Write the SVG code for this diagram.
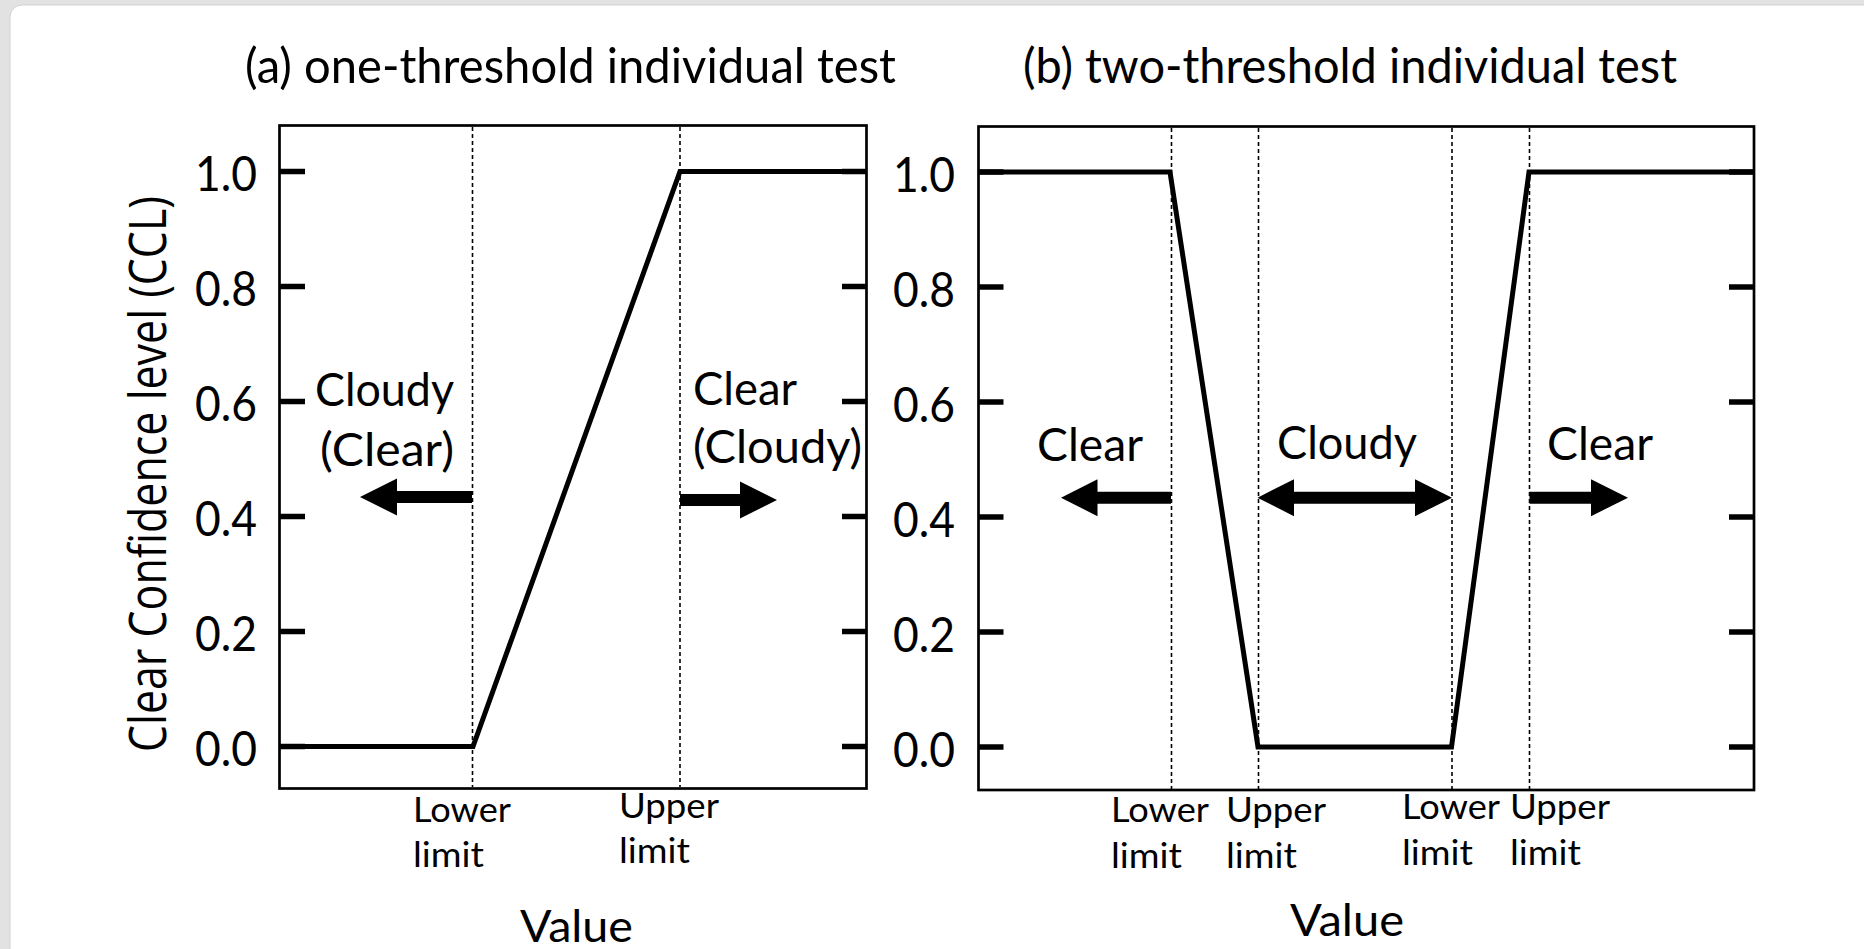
<svg xmlns="http://www.w3.org/2000/svg" width="1864" height="949" viewBox="0 0 1864 949">
  <style>
    .frame { fill: none; stroke: #000; stroke-width: 2.7; }
    .tick { stroke: #000; stroke-width: 5.5; }
    .limit { stroke: #000; stroke-width: 1.6; stroke-dasharray: 4 3; }
    .curve { fill: none; stroke: #000; stroke-width: 5; stroke-linejoin: miter; }
    .arrow { fill: #000; stroke: none; }
    .title { font-family: Lato, "Open Sans", sans-serif; font-size: 49px; fill: #000; }
    .num { font-family: Lato, "Open Sans", sans-serif; font-size: 48px; fill: #000; }
    .zone { font-family: Lato, "Open Sans", sans-serif; font-size: 46px; fill: #000; }
    .lim { font-family: Lato, "Open Sans", sans-serif; font-size: 34px; fill: #000; }
    .xlab { font-family: Lato, "Open Sans", sans-serif; font-size: 44px; fill: #000; }
    .ylab { font-family: "Open Sans", "Noto Sans", sans-serif; font-size: 51px; fill: #000; }
  </style>

  <!-- page background and card -->
  <rect x="0" y="0" width="1864" height="949" fill="#e2e2e2"/>
  <rect x="10" y="5" width="1880" height="960" rx="12" ry="12" fill="#ffffff" stroke="#d2d2d2" stroke-width="1"/>

  <!-- y axis title shared by both panels -->
  <text id="y-axis-title" class="ylab" transform="translate(166,752) rotate(-90)" x="0" y="0" textLength="556" lengthAdjust="spacingAndGlyphs">Clear Confidence level (CCL)</text>

  <!-- (a) one-threshold test -->
  <g id="panel-a">
    <text class="title" x="245" y="83" textLength="651" lengthAdjust="spacingAndGlyphs">(a) one-threshold individual test</text>
    <rect class="frame" x="279.5" y="125.5" width="587" height="663"/>
    <g id="panel-a-ticks">
      <line class="tick" x1="279.5" y1="171.5" x2="305" y2="171.5"/>
      <line class="tick" x1="279.5" y1="286.5" x2="305" y2="286.5"/>
      <line class="tick" x1="279.5" y1="401.5" x2="305" y2="401.5"/>
      <line class="tick" x1="279.5" y1="516.5" x2="305" y2="516.5"/>
      <line class="tick" x1="279.5" y1="631.5" x2="305" y2="631.5"/>
      <line class="tick" x1="279.5" y1="746.5" x2="305" y2="746.5"/>
      <line class="tick" x1="842" y1="171.5" x2="866.5" y2="171.5"/>
      <line class="tick" x1="842" y1="286.5" x2="866.5" y2="286.5"/>
      <line class="tick" x1="842" y1="401.5" x2="866.5" y2="401.5"/>
      <line class="tick" x1="842" y1="516.5" x2="866.5" y2="516.5"/>
      <line class="tick" x1="842" y1="631.5" x2="866.5" y2="631.5"/>
      <line class="tick" x1="842" y1="746.5" x2="866.5" y2="746.5"/>
    </g>
    <g id="panel-a-tick-labels" class="num">
      <text x="195" y="191" textLength="62" lengthAdjust="spacingAndGlyphs">1.0</text>
      <text x="195" y="306" textLength="62" lengthAdjust="spacingAndGlyphs">0.8</text>
      <text x="195" y="421" textLength="62" lengthAdjust="spacingAndGlyphs">0.6</text>
      <text x="195" y="536" textLength="62" lengthAdjust="spacingAndGlyphs">0.4</text>
      <text x="195" y="651" textLength="62" lengthAdjust="spacingAndGlyphs">0.2</text>
      <text x="195" y="766" textLength="62" lengthAdjust="spacingAndGlyphs">0.0</text>
    </g>
    <line class="limit" x1="472.5" y1="127" x2="472.5" y2="787"/>
    <line class="limit" x1="680" y1="127" x2="680" y2="787"/>
    <polyline id="panel-a-ccl" class="curve" points="280,746.5 473,746.5 680,171.5 866,171.5"/>
    <g id="panel-a-zones" class="zone">
      <text x="315" y="406" textLength="139" lengthAdjust="spacingAndGlyphs">Cloudy</text>
      <text x="320" y="466" textLength="134" lengthAdjust="spacingAndGlyphs">(Clear)</text>
      <text x="693" y="405" textLength="104" lengthAdjust="spacingAndGlyphs">Clear</text>
      <text x="693" y="463" textLength="169" lengthAdjust="spacingAndGlyphs">(Cloudy)</text>
    </g>
    <g id="panel-a-limit-labels" class="lim">
      <text x="413" y="822" textLength="98" lengthAdjust="spacingAndGlyphs">Lower</text>
      <text x="413" y="867" textLength="71" lengthAdjust="spacingAndGlyphs">limit</text>
      <text x="619" y="818" textLength="100" lengthAdjust="spacingAndGlyphs">Upper</text>
      <text x="619" y="863" textLength="71" lengthAdjust="spacingAndGlyphs">limit</text>
    </g>
    <text id="panel-a-x-title" class="xlab" x="520" y="942" textLength="113" lengthAdjust="spacingAndGlyphs">Value</text>
  </g>

  <!-- (b) two-threshold test -->
  <g id="panel-b">
    <text class="title" x="1023" y="83" textLength="654" lengthAdjust="spacingAndGlyphs">(b) two-threshold individual test</text>
    <rect class="frame" x="978.5" y="126.5" width="775.5" height="663.5"/>
    <g id="panel-b-ticks">
      <line class="tick" x1="978.5" y1="172" x2="1003.5" y2="172"/>
      <line class="tick" x1="978.5" y1="287" x2="1003.5" y2="287"/>
      <line class="tick" x1="978.5" y1="402" x2="1003.5" y2="402"/>
      <line class="tick" x1="978.5" y1="517" x2="1003.5" y2="517"/>
      <line class="tick" x1="978.5" y1="632" x2="1003.5" y2="632"/>
      <line class="tick" x1="978.5" y1="747" x2="1003.5" y2="747"/>
      <line class="tick" x1="1729" y1="172" x2="1754" y2="172"/>
      <line class="tick" x1="1729" y1="287" x2="1754" y2="287"/>
      <line class="tick" x1="1729" y1="402" x2="1754" y2="402"/>
      <line class="tick" x1="1729" y1="517" x2="1754" y2="517"/>
      <line class="tick" x1="1729" y1="632" x2="1754" y2="632"/>
      <line class="tick" x1="1729" y1="747" x2="1754" y2="747"/>
    </g>
    <g id="panel-b-tick-labels" class="num">
      <text x="893" y="192" textLength="62" lengthAdjust="spacingAndGlyphs">1.0</text>
      <text x="893" y="307" textLength="62" lengthAdjust="spacingAndGlyphs">0.8</text>
      <text x="893" y="422" textLength="62" lengthAdjust="spacingAndGlyphs">0.6</text>
      <text x="893" y="537" textLength="62" lengthAdjust="spacingAndGlyphs">0.4</text>
      <text x="893" y="652" textLength="62" lengthAdjust="spacingAndGlyphs">0.2</text>
      <text x="893" y="767" textLength="62" lengthAdjust="spacingAndGlyphs">0.0</text>
    </g>
    <line class="limit" x1="1171.5" y1="128" x2="1171.5" y2="789"/>
    <line class="limit" x1="1258.5" y1="128" x2="1258.5" y2="789"/>
    <line class="limit" x1="1452" y1="128" x2="1452" y2="789"/>
    <line class="limit" x1="1529.5" y1="128" x2="1529.5" y2="789"/>
    <polyline id="panel-b-ccl" class="curve" points="979,172 1170,172 1258,747 1451.5,747 1529,172 1753,172"/>
    <g id="panel-b-zones" class="zone">
      <text x="1037" y="461" textLength="106" lengthAdjust="spacingAndGlyphs">Clear</text>
      <text x="1277" y="459" textLength="140" lengthAdjust="spacingAndGlyphs">Cloudy</text>
      <text x="1547" y="460" textLength="106" lengthAdjust="spacingAndGlyphs">Clear</text>
    </g>
    <g id="panel-b-limit-labels" class="lim">
      <text x="1111" y="822" textLength="98" lengthAdjust="spacingAndGlyphs">Lower</text>
      <text x="1111" y="868" textLength="71" lengthAdjust="spacingAndGlyphs">limit</text>
      <text x="1226" y="822" textLength="100" lengthAdjust="spacingAndGlyphs">Upper</text>
      <text x="1226" y="868" textLength="71" lengthAdjust="spacingAndGlyphs">limit</text>
      <text x="1402" y="819" textLength="98" lengthAdjust="spacingAndGlyphs">Lower</text>
      <text x="1402" y="865" textLength="71" lengthAdjust="spacingAndGlyphs">limit</text>
      <text x="1510" y="819" textLength="100" lengthAdjust="spacingAndGlyphs">Upper</text>
      <text x="1510" y="865" textLength="71" lengthAdjust="spacingAndGlyphs">limit</text>
    </g>
    <text id="panel-b-x-title" class="xlab" x="1290" y="936" textLength="114" lengthAdjust="spacingAndGlyphs">Value</text>
  </g>

  <!-- block arrows pointing from each limit toward its zone -->
  <g id="connectors" class="arrow">
    <path d="M472,491 L397,491 L397,478.5 L360,497 L397,515.5 L397,503 L472,503 Z"/>
    <path d="M680,494 L740,494 L740,481.5 L777,500 L740,518.5 L740,506 L680,506 Z"/>
    <path d="M1171,491.7 L1097.5,491.7 L1097.5,479.2 L1061,497.7 L1097.5,516.2 L1097.5,503.7 L1171,503.7 Z"/>
    <path d="M1294,491.7 L1415,491.7 L1415,479.2 L1452,497.7 L1415,516.2 L1415,503.7 L1294,503.7 L1294,516.2 L1257.5,497.7 L1294,479.2 Z"/>
    <path d="M1529.5,491.7 L1591,491.7 L1591,479.2 L1628,497.7 L1591,516.2 L1591,503.7 L1529.5,503.7 Z"/>
  </g>
</svg>
